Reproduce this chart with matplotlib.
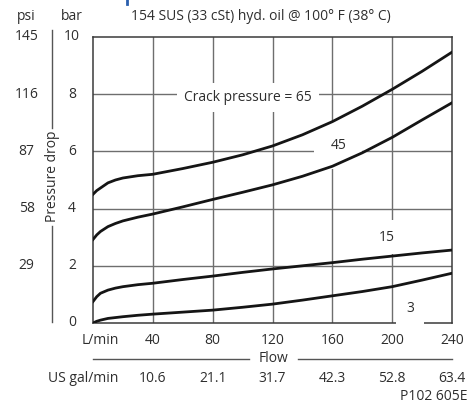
#!/usr/bin/env python3
"""Pressure drop vs flow chart for check valve (crack pressures 3..65)."""

import matplotlib.pyplot as plt
from matplotlib.lines import Line2D

plt.rcParams['font.family'] = ['Open Sans', 'DejaVu Sans']

W, H = 470, 404

# --- data ---
flow_lpm = [0, 2.5, 5, 10, 15, 20, 30, 40, 60, 80, 100, 120, 140, 160, 180, 200, 220, 240]
dp_65 = [4.50, 4.63, 4.72, 4.90, 5.00, 5.07, 5.15, 5.20, 5.40, 5.62, 5.88, 6.19, 6.58, 7.04, 7.58, 8.17, 8.80, 9.47]
dp_45 = [2.92, 3.08, 3.20, 3.37, 3.48, 3.57, 3.70, 3.81, 4.06, 4.32, 4.57, 4.83, 5.13, 5.48, 5.95, 6.49, 7.10, 7.70]
dp_15 = [0.75, 0.92, 1.04, 1.15, 1.22, 1.27, 1.34, 1.39, 1.52, 1.64, 1.77, 1.89, 2.00, 2.11, 2.23, 2.34, 2.45, 2.55]
dp_3 = [0.00, 0.06, 0.10, 0.16, 0.19, 0.22, 0.27, 0.31, 0.38, 0.45, 0.55, 0.66, 0.80, 0.95, 1.10, 1.27, 1.50, 1.74]

curve_labels = ['Crack pressure = 65', '45', '15', '3']
label_pos = [(103.5, 7.9), (164, 6.2), (196.5, 3.0), (212, 0.5)]
label_pad = [0.5, 1.15, 0.7, 0.75]

bar_ticks = [0, 2, 4, 6, 8, 10]
psi_ticks = ['', '29', '58', '87', '116', '145']
lpm_ticks = [40, 80, 120, 160, 200, 240]
gpm_ticks = ['10.6', '21.1', '31.7', '42.3', '52.8', '63.4']

FS = 10
TXT = '#2e2e2e'
RULE = '#555555'


def fx(px):
    return px / W


def fy(py):
    return 1 - py / H


fig = plt.figure(figsize=(W / 100, H / 100), dpi=100)
ax = fig.add_axes([fx(93), fy(323), fx(452) - fx(93), fy(37) - fy(323)])

ax.set_xlim(0, 240)
ax.set_ylim(0, 10)
ax.set_xticks(lpm_ticks[:-1])
ax.set_yticks(bar_ticks[1:-1])
ax.tick_params(length=0, labelbottom=False, labelleft=False)
ax.grid(True, color='#6e6e6e', linewidth=1.0, zorder=1)
for sp in ax.spines.values():
    sp.set_color('#3a3a3a')
    sp.set_linewidth(1.1)

# curves
for dp in (dp_65, dp_45, dp_15, dp_3):
    ax.plot(flow_lpm, dp, color='#151515', linewidth=2.0, zorder=4)

# curve labels with white boxes that break the grid
for txt, (x, y), pad in zip(curve_labels, label_pos, label_pad):
    ax.text(x, y, txt, ha='center', va='center', fontsize=FS, color=TXT,
            zorder=3, bbox=dict(boxstyle=f'square,pad={pad}', facecolor='white',
                                edgecolor='none'))

# left side: bar and psi scales
ytr = ax.get_yaxis_transform()
for b, p in zip(bar_ticks, psi_ticks):
    ax.text(-0.058, b, str(b), transform=ytr, ha='center', va='center',
            fontsize=FS, color=TXT)
    if p:
        ax.text(-0.185, b, p, transform=ytr, ha='center', va='center',
                fontsize=FS, color=TXT)
fig.text(fx(26), fy(17), 'psi', ha='center', va='center', fontsize=FS, color=TXT)
fig.text(fx(72), fy(17), 'bar', ha='center', va='center', fontsize=FS, color=TXT)
fig.text(fx(261), fy(16), '154 SUS (33 cSt) hyd. oil @ 100\u00b0 F (38\u00b0 C)',
         ha='center', va='center', fontsize=FS, color=TXT)

# vertical "Pressure drop" rule, broken around its label
fig.add_artist(Line2D([fx(52), fx(52)], [fy(30), fy(128)], color=RULE, linewidth=1.0))
fig.add_artist(Line2D([fx(52), fx(52)], [fy(226), fy(322)], color=RULE, linewidth=1.0))
fig.text(fx(52), fy(176), 'Pressure drop', rotation=90, ha='center', va='center',
         fontsize=FS, color=TXT)

# bottom: L/min and US gal/min scales
xtr = ax.get_xaxis_transform()
for lpm, gpm in zip(lpm_ticks, gpm_ticks):
    ax.text(lpm, -(340 - 323) / 286, str(lpm), transform=xtr, ha='center', va='center',
            fontsize=FS, color=TXT, clip_on=False)
    ax.text(lpm, -(378 - 323) / 286, gpm, transform=xtr, ha='center', va='center',
            fontsize=FS, color=TXT, clip_on=False)
fig.text(fx(100), fy(340), 'L/min', ha='center', va='center', fontsize=FS, color=TXT)
fig.text(fx(118), fy(378), 'US gal/min', ha='right', va='center', fontsize=FS, color=TXT)

# horizontal "Flow" rule, broken around its label
fig.add_artist(Line2D([fx(93), fx(249)], [fy(359), fy(359)], color=RULE, linewidth=1.0))
fig.add_artist(Line2D([fx(298), fx(452)], [fy(359), fy(359)], color=RULE, linewidth=1.0))
fig.text(fx(273), fy(359), 'Flow', ha='center', va='center', fontsize=FS, color=TXT)

fig.text(fx(468), fy(397), 'P102 605E', ha='right', va='center', fontsize=FS, color=TXT)

# clipped blue mark at top edge
fig.add_artist(Line2D([fx(127), fx(127)], [fy(0), fy(4)], color='#2a5fae', linewidth=2.0))

fig.savefig('out.png', dpi=100, facecolor='white')
plt.close(fig)
